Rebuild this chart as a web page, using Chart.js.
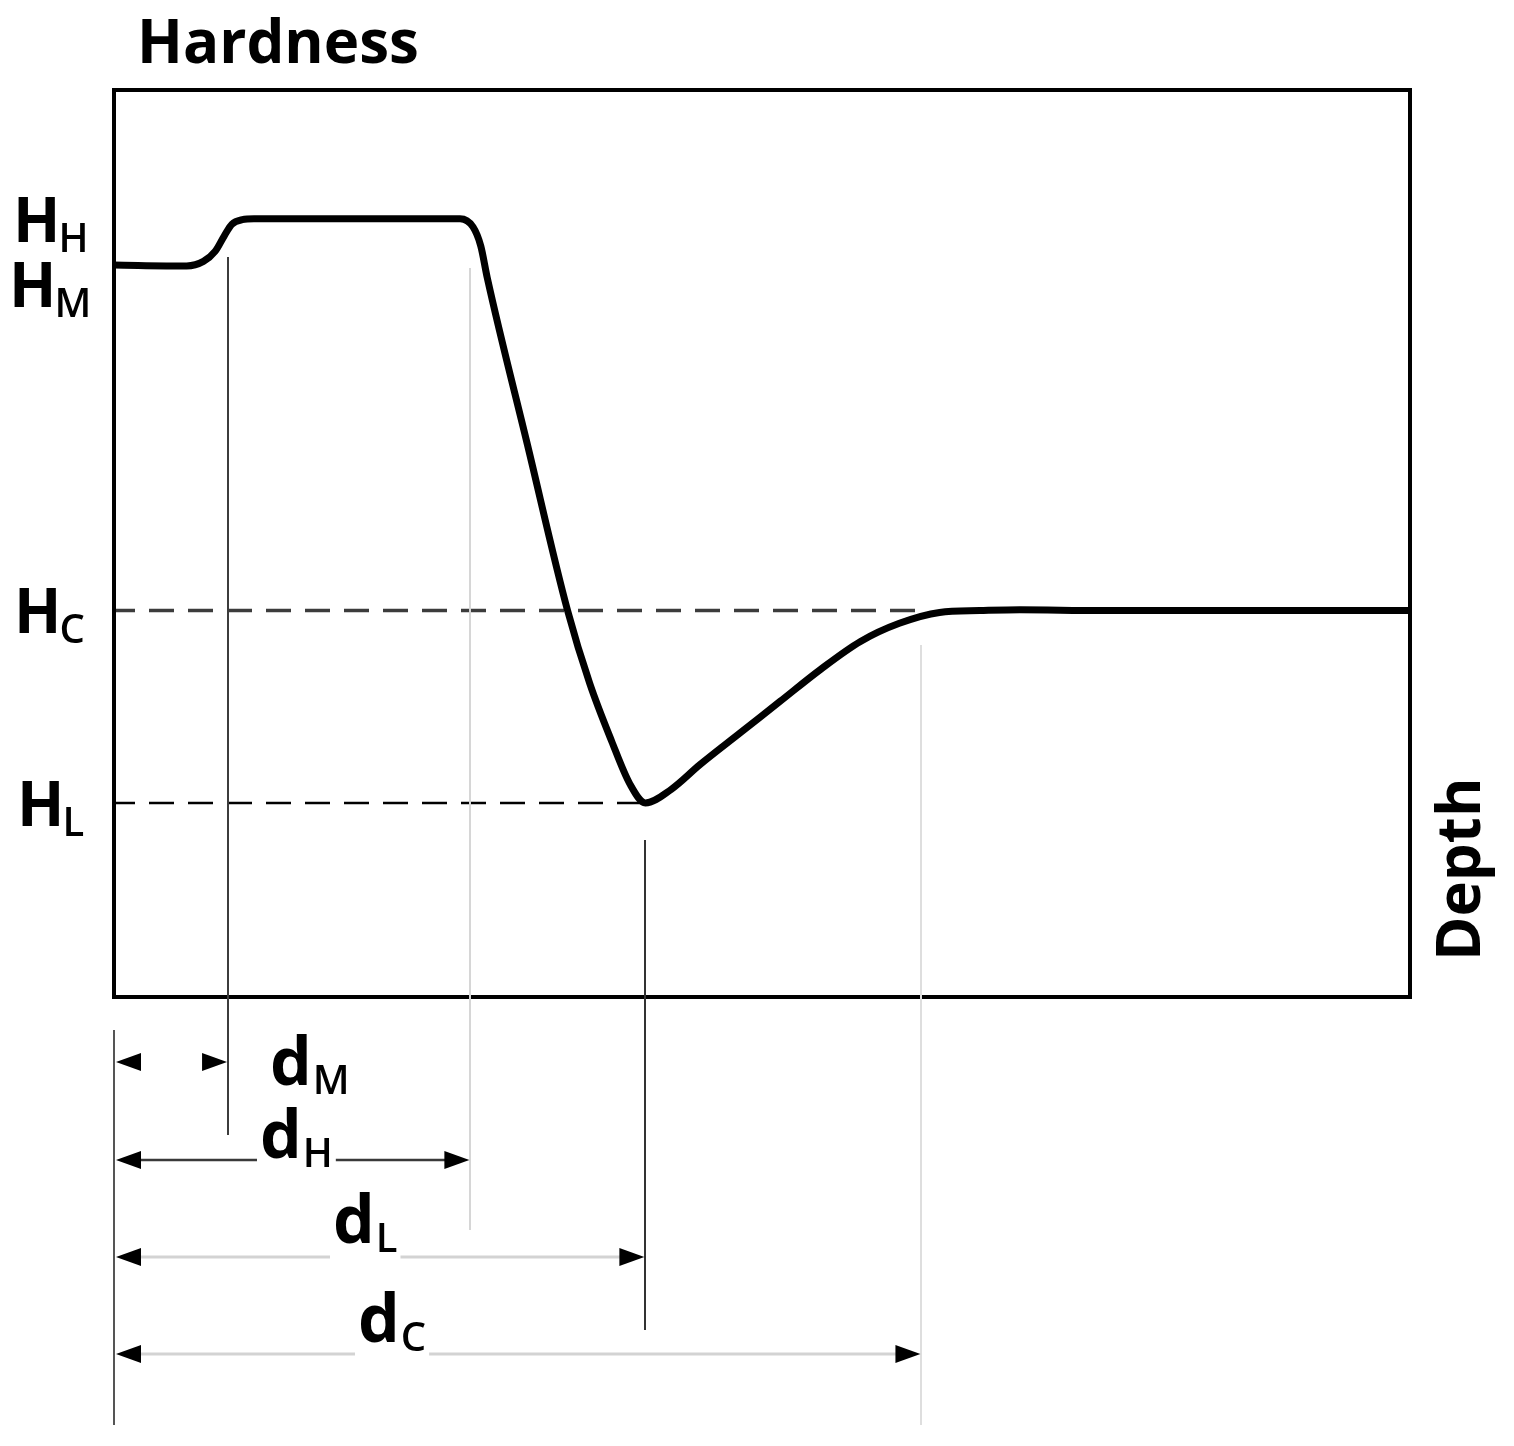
<!DOCTYPE html>
<html>
<head>
<meta charset="utf-8">
<script src="https://cdn.jsdelivr.net/npm/chart.js@4/dist/chart.umd.min.js"></script>
<style>
  html, body { margin: 0; padding: 0; background: #ffffff; }
  canvas { display: block; }
</style>
</head>
<body>
<canvas id="c" width="1514" height="1446"></canvas>
<script>
// ---- data (schematic units: depth 0..100, hardness 0..100) ----
const curveDepth    = [0, 5.6, 6.9, 7.8, 8.5, 9.1, 9.9, 10.8, 26.7, 27.7, 28.3, 28.8, 31.9, 35.0, 36.7, 38.4, 39.8, 41.0, 43.0, 45.2, 48.3, 51.4, 54.5, 57.6, 60.6, 63.7, 66.8, 69.9, 76.1, 100];
const curveHardness = [80.7, 80.6, 81.1, 82.2, 83.9, 85.2, 85.7, 85.8, 85.8, 84.9, 82.8, 79.3, 60.9, 42.6, 34.6, 28.2, 23.5, 21.4, 22.9, 25.6, 29.1, 32.6, 36.1, 39.2, 41.2, 42.4, 42.6, 42.7, 42.6, 42.6];

const levelKeys   = ['H', 'M', 'C', 'L'];       // H_H, H_M, H_C, H_L
const levelValues = [85.8, 80.7, 42.6, 21.4];

const depthKeys   = ['M', 'H', 'L', 'C'];       // d_M, d_H, d_L, d_C
const depthValues = [8.8, 27.5, 41.0, 62.3];

const xTitle = 'Depth';
const yTitle = 'Hardness';

// ---- helpers ----
const hC = levelValues[levelKeys.indexOf('C')];
const hL = levelValues[levelKeys.indexOf('L')];
const dC = depthValues[depthKeys.indexOf('C')];
const dL = depthValues[depthKeys.indexOf('L')];

const curve = curveDepth.map((x, i) => ({ x: x, y: curveHardness[i] }));

const FONT = "'Open Sans', 'DejaVu Sans', sans-serif";

const schematicPlugin = {
  id: 'schematic',
  afterDraw(chart) {
    const ctx = chart.ctx;
    const area = chart.chartArea;
    const xs = chart.scales.x, ys = chart.scales.y;
    ctx.save();

    // frame
    ctx.strokeStyle = '#000';
    ctx.lineWidth = 4;
    ctx.strokeRect(area.left, area.top, area.right - area.left, area.bottom - area.top);

    // guide verticals [top, bottom, color]
    const guides = {
      M: [257, 1135, '#3c3c3c'],
      H: [268, 1230, '#d6d6d6'],
      L: [840, 1330, '#333333'],
      C: [645, 1425, '#dedede']
    };
    ctx.lineWidth = 2;
    depthKeys.forEach((k, i) => {
      const g = guides[k];
      const px = Math.round(xs.getPixelForValue(depthValues[i]));
      ctx.strokeStyle = g[2];
      ctx.beginPath();
      ctx.moveTo(px, g[0]);
      ctx.lineTo(px, g[1]);
      ctx.stroke();
    });
    // left guide
    ctx.strokeStyle = '#555';
    ctx.beginPath();
    ctx.moveTo(area.left, 1030);
    ctx.lineTo(area.left, 1425);
    ctx.stroke();

    // dimension rows
    const rows = {
      M: { y: 1062, color: null, w: 0, tx: 270, ty: 1085 },
      H: { y: 1160, color: '#3a3a3a', w: 2.5, tx: 260, ty: 1158 },
      L: { y: 1257, color: '#d3d3d3', w: 3, tx: 333, ty: 1243 },
      C: { y: 1354, color: '#d3d3d3', w: 3, tx: 358, ty: 1342 }
    };
    const mainFont = 'bold 66px ' + FONT;
    const subFont = '600 40px ' + FONT;

    function arrow(tipX, y, dir) {
      const len = 25, hw = 9;
      ctx.fillStyle = '#000';
      ctx.beginPath();
      ctx.moveTo(tipX, y);
      ctx.lineTo(tipX - dir * len, y - hw);
      ctx.lineTo(tipX - dir * len, y + hw);
      ctx.closePath();
      ctx.fill();
    }

    depthKeys.forEach((k, i) => {
      const r = rows[k];
      const leftX = area.left + 2;
      const rightX = xs.getPixelForValue(depthValues[i]) - 1;
      ctx.font = mainFont;
      const wd = ctx.measureText('d').width;
      ctx.font = subFont;
      const ws = ctx.measureText(k).width;
      const subX = r.tx + wd + 1;
      const textR = subX + ws;
      if (r.color) {
        ctx.strokeStyle = r.color;
        ctx.lineWidth = r.w;
        ctx.beginPath();
        ctx.moveTo(leftX + 10, r.y);
        ctx.lineTo(r.tx - 3, r.y);
        ctx.moveTo(textR + 3, r.y);
        ctx.lineTo(rightX - 10, r.y);
        ctx.stroke();
      }
      arrow(leftX, r.y, -1);
      arrow(rightX, r.y, 1);
      ctx.fillStyle = '#000';
      ctx.textBaseline = 'alphabetic';
      ctx.textAlign = 'left';
      ctx.font = mainFont;
      ctx.fillText('d', r.tx, r.ty);
      ctx.font = subFont;
      ctx.fillText(k, subX, r.ty + 9);
    });

    // hardness level labels
    const labelPos = {
      H: { x: 13, dy: 23 },
      M: { x: 9, dy: 42 },
      C: { x: 14, dy: 22 },
      L: { x: 17, dy: 23 }
    };
    levelKeys.forEach((k, i) => {
      const p = labelPos[k];
      const py = ys.getPixelForValue(levelValues[i]) + p.dy;
      ctx.fillStyle = '#000';
      ctx.font = 'bold 62px ' + FONT;
      ctx.fillText('H', p.x, py);
      const w = ctx.measureText('H').width;
      ctx.font = subFont;
      ctx.fillText(k, p.x + w - 2, py + 10);
    });

    // axis titles
    ctx.font = 'bold 60px ' + FONT;
    ctx.fillText(yTitle, 137, 63);
    ctx.save();
    ctx.translate(1480, 961);
    ctx.rotate(-Math.PI / 2);
    ctx.font = 'bold 60px ' + FONT;
    ctx.fillText(xTitle, 0, 0);
    ctx.restore();

    ctx.restore();
  }
};

new Chart(document.getElementById('c'), {
  type: 'line',
  data: {
    datasets: [
      {
        label: 'Hardness',
        data: curve,
        borderColor: '#000',
        borderWidth: 7,
        pointRadius: 0,
        cubicInterpolationMode: 'monotone',
        borderCapStyle: 'round',
        borderJoinStyle: 'round',
        fill: false
      },
      {
        label: 'H_C',
        data: [{ x: 0, y: hC }, { x: dC, y: hC }],
        borderColor: '#3c3c3c',
        borderWidth: 3.5,
        borderDash: [25, 14],
        borderDashOffset: 4,
        pointRadius: 0,
        fill: false
      },
      {
        label: 'H_L',
        data: [{ x: 0, y: hL }, { x: dL, y: hL }],
        borderColor: '#000',
        borderWidth: 2.5,
        borderDash: [25, 14],
        borderDashOffset: 4,
        pointRadius: 0,
        fill: false
      }
    ]
  },
  options: {
    responsive: false,
    animation: false,
    devicePixelRatio: 1,
    layout: { padding: { left: 114, top: 90, right: 104, bottom: 449 } },
    scales: {
      x: { type: 'linear', min: 0, max: 100, display: false },
      y: { type: 'linear', min: 0, max: 100, display: false }
    },
    plugins: {
      legend: { display: false },
      tooltip: { enabled: false },
      title: { display: false }
    },
    events: []
  },
  plugins: [schematicPlugin]
});
</script>
</body>
</html>
